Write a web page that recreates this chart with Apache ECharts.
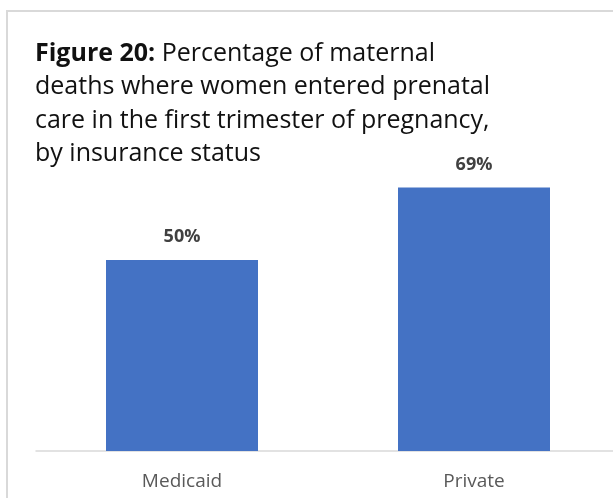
<!DOCTYPE html>
<html>
<head>
<meta charset="utf-8">
<script src="https://cdn.jsdelivr.net/npm/echarts@6/dist/echarts.min.js"></script>
<style>
html,body{margin:0;padding:0;background:#fff;}
#c{width:613px;height:498px;}
</style>
</head>
<body>
<div id="c"></div>
<script>
const categories = ['Medicaid', 'Private'];
const values = [50, 69];
const titleBold = 'Figure 20:';
const titleLines = [' Percentage of maternal', 'deaths where women entered prenatal', 'care in the first trimester of pregnancy,', 'by insurance status'];

const chart = echarts.init(document.getElementById('c'), null, {renderer: 'canvas'});
const FONT = '"Open Sans", Lato, sans-serif';
chart.setOption({
  backgroundColor: '#fff',
  animation: false,
  title: {
    left: 35, top: 37, padding: 0,
    text: '{b|' + titleBold + '}{r|' + titleLines[0] + '}\n{r|' + titleLines.slice(1).join('}\n{r|') + '}',
    textStyle: {
      rich: {
        b: {fontFamily: FONT, fontWeight: 'bold', fontSize: 25, color: '#111', lineHeight: 33.5},
        r: {fontFamily: FONT, fontWeight: 'normal', fontSize: 25, color: '#111', lineHeight: 33.5}
      }
    }
  },
  graphic: [{
    type: 'rect', silent: true, z: -1,
    shape: {x: 7, y: 11, width: 640, height: 520},
    style: {fill: 'none', stroke: '#d9d9d9', lineWidth: 2}
  }],
  grid: {left: 36, width: 584, top: 69, bottom: 47, containLabel: false, outerBoundsMode: 'none'},
  xAxis: {
    type: 'category', data: categories,
    axisLine: {show: true, lineStyle: {color: '#d9d9d9', width: 1.5}},
    axisTick: {show: false},
    axisLabel: {fontFamily: FONT, fontSize: 19, color: '#595959', margin: 21}
  },
  yAxis: {type: 'value', min: 0, max: 100, show: false, splitLine: {show: false}},
  series: [{
    type: 'bar', data: values, barWidth: 152,
    itemStyle: {color: '#4472c4'},
    label: {
      show: true, position: 'top', distance: 14,
      formatter: '{c}%',
      fontFamily: FONT, fontWeight: 'bold', fontSize: 18, color: '#404040'
    }
  }]
});
</script>
</body>
</html>
